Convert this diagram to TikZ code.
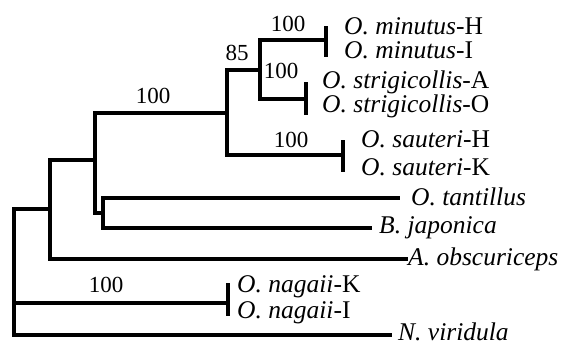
\documentclass[tikz,border=0pt]{standalone}
\usepackage{fontspec}
\setmainfont{Liberation Serif}
\usetikzlibrary{positioning}
\tikzstyle{branch} = [line width=3.4pt, line cap=rect, line join=miter]
\tikzstyle{bar} = [line width=3.4pt]
\tikzstyle{taxon} = [anchor=base west, inner sep=0pt, font=\fontsize{25.5}{29}\selectfont]
\tikzstyle{boot} = [anchor=base, inner sep=0pt, font=\fontsize{23}{27}\selectfont]
\newcommand\strain[2]{\textit{#1}-#2}

\begin{document}
\begin{tikzpicture}[x=1pt, y=-1pt]
\useasboundingbox (0,0) rectangle (561,346);
%----------------------------------------------------------------------------
% Internal nodes of the tree
\coordinate (nRoot) at (14,209);
\coordinate (nA) at (50,209);
\coordinate (nB) at (95,160);
\coordinate (nC) at (103,213);
\coordinate (nD) at (227,113);
\coordinate (nE) at (260,70);

% ends of the terminal branches
\coordinate (barMinutus) at (326,40);
\coordinate (barStrig) at (306,99);
\coordinate (barSauteri) at (343,155);
\coordinate (barNagaii) at (228,303);
\coordinate (endTantillus) at (398,198);
\coordinate (endJaponica) at (370,228);
\coordinate (endObscuriceps) at (406,259);
\coordinate (endViridula) at (390,335);

%----------------------------------------------------------------------------
% Taxon labels
\node (minutusH) [taxon] at (344,34) {\strain{O. minutus}{H}};
\node (minutusI) [taxon] at (344,58) {\strain{O. minutus}{I}};
\node (strigA) [taxon] at (322,88) {\strain{O. strigicollis}{A}};
\node (strigO) [taxon] at (322,112) {\strain{O. strigicollis}{O}};
\node (sauteriH) [taxon] at (361,147) {\strain{O. sauteri}{H}};
\node (sauteriK) [taxon] at (361,175) {\strain{O. sauteri}{K}};
\node (tantillus) [taxon] at (411,205) {\textit{O. tantillus}};
\node (japonica) [taxon] at (379,233) {\textit{B. japonica}};
\node (obscuriceps) [taxon] at (408,265) {\textit{A. obscuriceps}};
\node (nagaiiK) [taxon] at (237,292) {\strain{O. nagaii}{K}};
\node (nagaiiI) [taxon] at (237,318) {\strain{O. nagaii}{I}};
\node (viridula) [taxon] at (398,340) {\textit{N. viridula}};

%----------------------------------------------------------------------------
% Bootstrap values
\node (bootMinutus) [boot] at (288,31) {100};
\node (bootE) [boot] at (237,60) {85};
\node (bootStrig) [boot] at (281,78) {100};
\node (bootSauteri) [boot] at (291,147) {100};
\node (bootD) [boot] at (153,103) {100};
\node (bootNagaii) [boot] at (106,292) {100};

%----------------------------------------------------------------------------
% Branches
\draw [branch] (nRoot) -- (nA);
\draw [branch] (nRoot) |- (barNagaii);
\draw [branch] (nRoot) |- (endViridula);

\draw [branch] (nA) |- (nB);
\draw [branch] (nA) |- (endObscuriceps);

\draw [branch] (nB) |- (nD);
\draw [branch] (nB) |- (nC);

\draw [branch] (nC) |- (endTantillus);
\draw [branch] (nC) |- (endJaponica);

\draw [branch] (nD) |- (nE);
\draw [branch] (nD) |- (barSauteri);

\draw [branch] (nE) |- (barMinutus);
\draw [branch] (nE) |- (barStrig);

% collapsed pairs
\draw [bar] (barMinutus) ++(0,-14) -- ++(0,31);
\draw [bar] (barStrig) ++(0,-17) -- ++(0,33);
\draw [bar] (barSauteri) ++(0,-15) -- ++(0,32);
\draw [bar] (barNagaii) ++(0,-20) -- ++(0,33);

\end{tikzpicture}
\end{document}
